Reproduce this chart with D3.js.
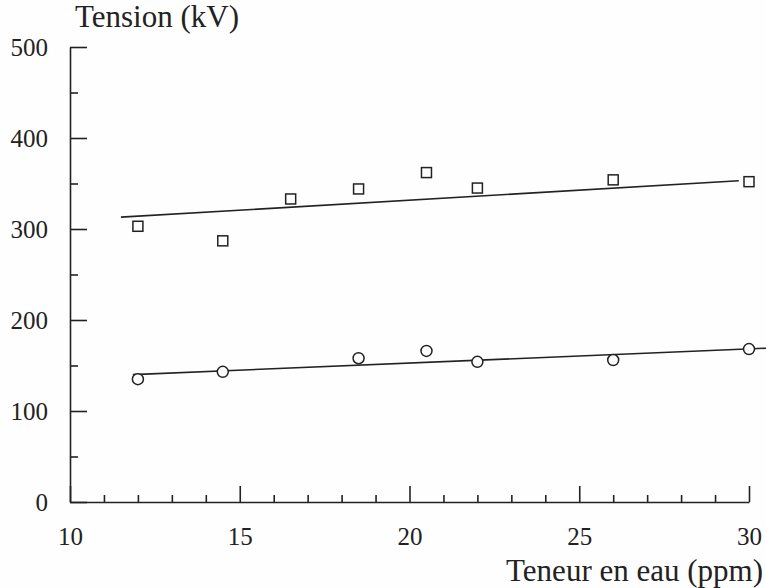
<!DOCTYPE html>
<html>
<head>
<meta charset="utf-8">
<script src="https://cdn.jsdelivr.net/npm/d3@7"></script>
<style>
  body { margin: 0; background: #fff; }
  svg { display: block; }
</style>
</head>
<body>
<div id="chart"></div>
<script>
// carrés : série haute
let squarePpm = [12, 14.5, 16.5, 18.5, 20.5, 22, 26, 30];
let squareKV = [303, 287, 333, 344, 362, 345, 354, 352];
// cercles : série basse
let circlePpm = [12, 14.5, 18.5, 20.5, 22, 26, 30];
let circleKV = [135, 143, 158, 166, 154, 156, 168];
// droites tracées (début, fin)
let squareFit = [[11.5, 313], [29.7, 353]];
let circleFit = [[11.85, 140], [30.5, 169]];

let xMajor = [10, 15, 20, 25, 30];
let xMinor = [11, 12, 13, 14, 16, 17, 18, 19, 21, 22, 23, 24, 26, 27, 28, 29];
let yMajor = [0, 100, 200, 300, 400, 500];
let yMinor = [50, 150, 250, 350, 450];

let width = 766, height = 588;
let ink = "#222";
let serif = "'Liberation Serif', 'Times New Roman', serif";

let x = d3.scaleLinear([10, 30], [70, 749]);
let y = d3.scaleLinear([0, 500], [502, 47]);

let svg = d3.select("#chart").append("svg")
  .attr("width", width)
  .attr("height", height)
  .attr("font-family", serif);

svg.append("rect").attr("width", width).attr("height", height).attr("fill", "#fefefe");

// axe x
let gx = svg.append("g").attr("transform", `translate(0,${y(0)})`);
gx.call(d3.axisBottom(x).tickValues(xMajor).tickSize(-16).tickSizeOuter(0).tickPadding(25));
gx.append("g").call(d3.axisBottom(x).tickValues(xMinor).tickSize(-7).tickFormat(""))
  .call(g => g.select(".domain").remove());

// axe y
let gy = svg.append("g").attr("transform", `translate(${x(10)},0)`);
gy.call(d3.axisLeft(y).tickValues(yMajor).tickSize(-17).tickSizeOuter(0).tickPadding(22));
gy.append("g").call(d3.axisLeft(y).tickValues(yMinor).tickSize(-8).tickFormat(""))
  .call(g => g.select(".domain").remove());

svg.selectAll("g").attr("font-family", serif);
svg.selectAll(".domain, .tick line").attr("stroke", ink).attr("stroke-width", 1.6);
svg.selectAll(".tick text").attr("fill", ink).attr("font-size", 25);

// droites
let line = d3.line().x(d => x(d[0])).y(d => y(d[1]));
svg.append("g")
  .attr("fill", "none")
  .attr("stroke", ink)
  .attr("stroke-width", 1.6)
  .selectAll("path")
  .data([squareFit, circleFit])
  .join("path")
  .attr("d", line);

// carrés
let s = 10;
svg.append("g")
  .selectAll("rect")
  .data(d3.zip(squarePpm, squareKV))
  .join("rect")
  .attr("x", d => x(d[0]) - s / 2)
  .attr("y", d => y(d[1]) - s / 2)
  .attr("width", s)
  .attr("height", s)
  .attr("fill", "#fefefe")
  .attr("stroke", ink)
  .attr("stroke-width", 1.5);

// cercles
svg.append("g")
  .selectAll("circle")
  .data(d3.zip(circlePpm, circleKV))
  .join("circle")
  .attr("cx", d => x(d[0]))
  .attr("cy", d => y(d[1]))
  .attr("r", 5.5)
  .attr("fill", "#fefefe")
  .attr("stroke", ink)
  .attr("stroke-width", 1.5);

// titres des axes
svg.append("text")
  .attr("x", 75)
  .attr("y", 27)
  .attr("font-size", 31)
  .attr("fill", ink)
  .text("Tension (kV)");

svg.append("text")
  .attr("x", 763)
  .attr("y", 581)
  .attr("text-anchor", "end")
  .attr("font-size", 31)
  .attr("fill", ink)
  .text("Teneur en eau (ppm)");
</script>
</body>
</html>
